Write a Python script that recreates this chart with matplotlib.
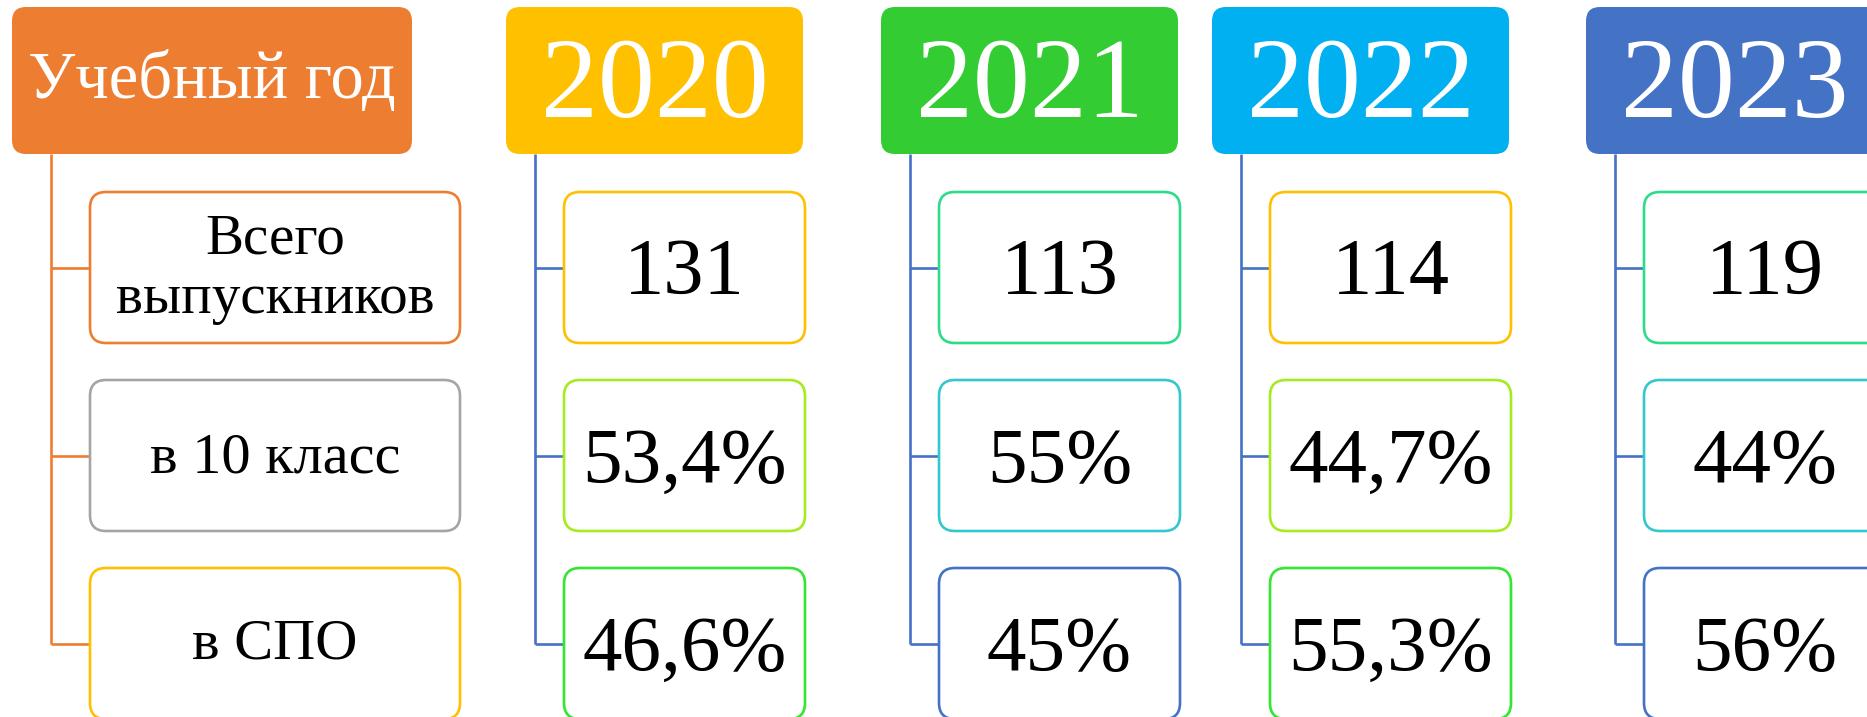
import matplotlib
matplotlib.use("Agg")
import matplotlib.pyplot as plt
from matplotlib.patches import FancyBboxPatch

# ---- data ----
header_label = "Учебный год"
row_labels = ["Всего\nвыпускников", "в 10 класс", "в СПО"]
years = ["2020", "2021", "2022", "2023"]
total_grads = [131, 113, 114, 119]
share_10_class = [53.4, 55, 44.7, 44]
share_spo = [46.6, 45, 55.3, 56]

def fmt_pct(v):
    s = ("%g" % v).replace(".", ",")
    return s + "%"

# ---- styling ----
W, H = 1867, 717
fig = plt.figure(figsize=(W / 100, H / 100), dpi=100)
ax = fig.add_axes([0, 0, 1, 1])
ax.set_xlim(0, W)
ax.set_ylim(H, 0)
ax.axis("off")

SERIF = ["Liberation Serif", "DejaVu Serif"]

header_colors = ["#ED7D31", "#FFC000", "#33CC33", "#00B0F0", "#4472C4"]
header_x = [12, 506, 881, 1212, 1586]
header_w = [400, 297, 297, 297, 297]
header_y0, header_y1 = 7, 154

line_colors = ["#ED7D31", "#4472C4", "#4472C4", "#4472C4", "#4472C4"]
line_off = [39, 29, 29, 29, 29]
child_off = [78, 58, 58, 58, 58]
child_w = [370, 241, 241, 241, 241]
row_y = [(192, 343), (380, 531), (568, 719)]

border_colors = [
    ["#ED7D31", "#A5A5A5", "#FFC000"],
    ["#FFC000", "#A5EB1E", "#33E633"],
    ["#2EDB8A", "#33C8D0", "#4472C4"],
    ["#FFC000", "#A5EB1E", "#33E633"],
    ["#2EDB8A", "#33C8D0", "#4472C4"],
]

# column contents
col_headers = [header_label] + years
col_values = [row_labels] + [
    [str(t), fmt_pct(a), fmt_pct(b)] for t, a, b in zip(total_grads, share_10_class, share_spo)
]

LW = 1.9

for c in range(len(col_headers)):
    hx = header_x[c]
    hw = header_w[c]
    # header box
    ax.add_patch(FancyBboxPatch((hx, header_y0), hw, header_y1 - header_y0,
                                boxstyle="round,pad=0,rounding_size=14",
                                fc=header_colors[c], ec="none", zorder=2))
    if c == 0:
        ax.text(hx + hw / 2, 98, col_headers[c], color="white", fontsize=48,
                family=SERIF, ha="center", va="baseline", zorder=3)
    else:
        ax.text(hx + hw / 2, 117, col_headers[c], color="white", fontsize=82,
                family=SERIF, ha="center", va="baseline", zorder=3)

    lx = hx + line_off[c]
    cx0 = hx + child_off[c]
    cw = child_w[c]
    centers = [(a + b) / 2 for a, b in row_y]
    # vertical connector
    ax.plot([lx, lx], [header_y1, centers[-1]], color=line_colors[c], lw=LW,
            solid_capstyle="butt", zorder=1)
    for r, (y0, y1) in enumerate(row_y):
        yc = (y0 + y1) / 2
        ax.plot([lx, cx0], [yc, yc], color=line_colors[c], lw=LW,
                solid_capstyle="butt", zorder=1)
        ax.add_patch(FancyBboxPatch((cx0, y0), cw, y1 - y0,
                                    boxstyle="round,pad=0,rounding_size=16",
                                    fc="white", ec=border_colors[c][r], lw=LW, zorder=2))
        label = col_values[c][r]
        xc = cx0 + cw / 2
        if c == 0:
            if r == 0:
                parts = label.split("\n")
                ax.text(xc, 253, parts[0], fontsize=41, family=SERIF, color="black",
                        ha="center", va="baseline", zorder=3)
                ax.text(xc, 313, parts[1], fontsize=41, family=SERIF, color="black",
                        ha="center", va="baseline", zorder=3)
            elif r == 1:
                ax.text(xc, yc + 17, label, fontsize=42, family=SERIF, color="black",
                        ha="center", va="baseline", zorder=3)
            else:
                ax.text(xc, yc + 15, label, fontsize=42, family=SERIF, color="black",
                        ha="center", va="baseline", zorder=3)
        else:
            fs = 58 if r == 0 else 57
            ax.text(xc, yc + 26, label, fontsize=fs, family=SERIF, color="black",
                    ha="center", va="baseline", zorder=3)

fig.savefig("out.png", dpi=100, facecolor="white")
